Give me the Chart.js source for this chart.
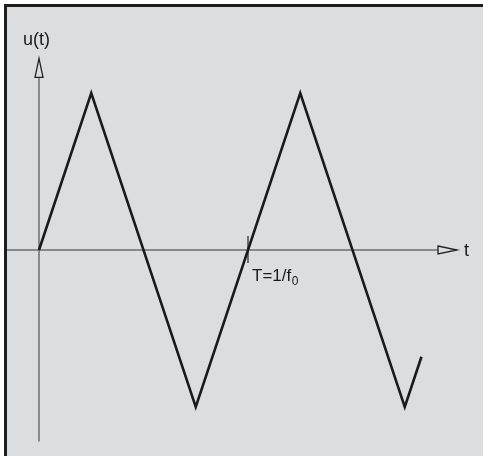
<!DOCTYPE html>
<html>
<head>
<meta charset="utf-8">
<script src="https://cdn.jsdelivr.net/npm/chart.js@4"></script>
<style>
  html, body { margin: 0; padding: 0; background: #fff; }
  #wrap { width: 483px; height: 456px; }
</style>
</head>
<body>
<div id="wrap"><canvas id="chart" width="483" height="456"></canvas></div>
<script>
// triangle wave u(t), one period T = 1
const tValues = [0, 0.25, 0.75, 1.25, 1.75, 1.83];
const uValues = [0, 1, -1, 1, -1, -0.68];

// axis extents in data units
const tAxisEnd = 2.0;
const uAxisTop = 1.22;
const uAxisBottom = -1.22;
const periodTick = 1;
const periodLabel = 'T=1/f';
const periodSub = '0';

const font = '"Liberation Sans", Arial, Helvetica, sans-serif';

const sketch = {
  id: 'sketch',
  beforeDraw(chart) {
    const ctx = chart.ctx;
    ctx.save();
    ctx.fillStyle = '#fff';
    ctx.fillRect(0, 0, chart.width, chart.height);
    ctx.fillStyle = '#dcdddf';
    ctx.fillRect(4, 4, chart.width - 4, chart.height - 4);
    ctx.fillStyle = '#1e1e1e';
    ctx.fillRect(4, 4, chart.width - 4, 3);
    ctx.fillRect(4, 4, 3, chart.height - 4);

    const x = chart.scales.x, y = chart.scales.y;
    const x0 = x.getPixelForValue(0);
    const y0 = y.getPixelForValue(0);
    const xEnd = x.getPixelForValue(tAxisEnd);
    const yTop = y.getPixelForValue(uAxisTop);
    const yBot = y.getPixelForValue(uAxisBottom);

    ctx.strokeStyle = '#6e6e6e';
    ctx.lineWidth = 1.5;
    // horizontal axis
    ctx.beginPath();
    ctx.moveTo(7, y0);
    ctx.lineTo(xEnd - 19, y0);
    ctx.stroke();
    // vertical axis
    ctx.beginPath();
    ctx.moveTo(x0, yBot);
    ctx.lineTo(x0, yTop + 19);
    ctx.stroke();

    // open arrow heads
    ctx.strokeStyle = '#222';
    ctx.lineWidth = 1.3;
    ctx.beginPath();
    ctx.moveTo(xEnd - 19, y0 - 4);
    ctx.lineTo(xEnd, y0);
    ctx.lineTo(xEnd - 19, y0 + 4);
    ctx.closePath();
    ctx.stroke();
    ctx.beginPath();
    ctx.moveTo(x0 - 4, yTop + 19);
    ctx.lineTo(x0, yTop);
    ctx.lineTo(x0 + 4, yTop + 19);
    ctx.closePath();
    ctx.stroke();

    // period tick
    const xt = x.getPixelForValue(periodTick);
    ctx.strokeStyle = '#222';
    ctx.lineWidth = 1.2;
    ctx.beginPath();
    ctx.moveTo(xt, y0 - 14);
    ctx.lineTo(xt, y0 + 13);
    ctx.stroke();

    // labels
    ctx.fillStyle = '#1a1a1a';
    ctx.textBaseline = 'alphabetic';
    ctx.textAlign = 'left';
    ctx.font = '17px ' + font;
    ctx.fillText(periodLabel, xt + 4, y0 + 31);
    const w = ctx.measureText(periodLabel).width;
    ctx.font = '12px ' + font;
    ctx.fillText(periodSub, xt + 4 + w + 0.5, y0 + 35);

    ctx.font = '18px ' + font;
    ctx.textBaseline = 'middle';
    ctx.fillText('t', xEnd + 7, y0 + 1);
    ctx.textBaseline = 'alphabetic';
    ctx.fillText('u(t)', x0 - 16, yTop - 13);
    ctx.restore();
  }
};

new Chart(document.getElementById('chart'), {
  type: 'line',
  data: {
    datasets: [{
      data: tValues.map((t, i) => ({ x: t, y: uValues[i] })),
      borderColor: '#1a1a1a',
      borderWidth: 2.6,
      pointRadius: 0,
      tension: 0,
      fill: false
    }]
  },
  options: {
    responsive: false,
    animation: false,
    layout: { padding: 0 },
    plugins: { legend: { display: false }, tooltip: { enabled: false } },
    scales: {
      x: { type: 'linear', display: false, min: -39 / 209, max: -39 / 209 + 483 / 209 },
      y: { type: 'linear', display: false, min: -206 / 157, max: 250 / 157 }
    }
  },
  plugins: [sketch]
});
</script>
</body>
</html>
